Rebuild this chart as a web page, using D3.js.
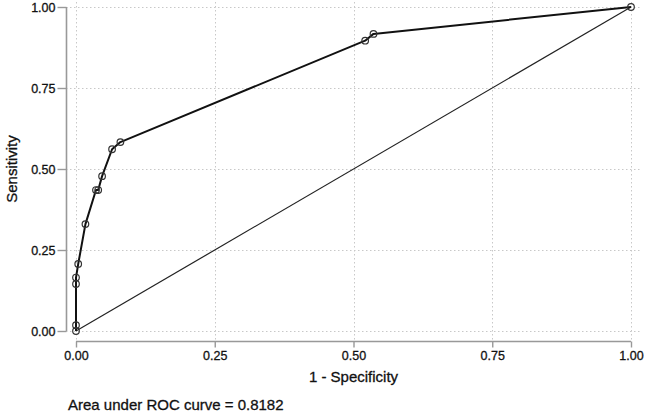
<!DOCTYPE html>
<html>
<head>
<meta charset="utf-8">
<script src="https://cdn.jsdelivr.net/npm/d3@7"></script>
<style>
  body { margin: 0; background: #fff; }
  svg { display: block; font-family: "Liberation Sans", Arial, Helvetica, sans-serif; }
</style>
</head>
<body>
<div id="chart"></div>
<script>
// ROC points (1 - specificity, sensitivity)
const fpr = [0, 0, 0, 0, 0.004, 0.017, 0.036, 0.040, 0.047, 0.065, 0.080, 0.521, 0.536, 1];
const tpr = [0, 0.018, 0.145, 0.165, 0.207, 0.330, 0.435, 0.435, 0.478, 0.561, 0.583, 0.896, 0.917, 1];
const ticks = [0, 0.25, 0.5, 0.75, 1];
const auc = 0.8182;

const width = 646, height = 413;

const svg = d3.select('#chart').append('svg')
  .attr('width', width)
  .attr('height', height);

const x = d3.scaleLinear().domain([0, 1]).range([76, 631]);
const y = d3.scaleLinear().domain([0, 1]).range([331, 7]);

// plot region (a bit larger than the data range)
const px0 = 66, px1 = 641, py0 = -2, py1 = 341;

const fmt = d3.format('.2f');
const axisColor = '#999';

// grid
const grid = svg.append('g')
  .attr('stroke', '#c8c8c8')
  .attr('stroke-width', 1)
  .attr('stroke-dasharray', '1.5,2.5');
grid.selectAll('.gx').data(ticks).join('line')
  .attr('x1', d => Math.round(x(d)) + 0.5).attr('x2', d => Math.round(x(d)) + 0.5)
  .attr('y1', py0).attr('y2', py1);
grid.selectAll('.gy').data(ticks).join('line')
  .attr('class', 'gy')
  .attr('x1', px0).attr('x2', px1)
  .attr('y1', d => Math.round(y(d)) + 0.5).attr('y2', d => Math.round(y(d)) + 0.5);

// y axis
const yAxis = svg.append('g')
  .attr('transform', `translate(${px0 + 0.5},0)`)
  .call(d3.axisLeft(y).tickValues(ticks).tickFormat(fmt).tickSize(9).tickPadding(2));
yAxis.select('.domain').attr('d', `M0,${y(1)}V${y(0)}`);

// x axis
const xAxis = svg.append('g')
  .attr('transform', `translate(0,${py1 + 0.5})`)
  .call(d3.axisBottom(x).tickValues(ticks).tickFormat(fmt).tickSize(6).tickPadding(4));
xAxis.select('.domain').attr('d', `M${x(0)},0H${x(1)}`);

[yAxis, xAxis].forEach(a => {
  a.select('.domain').attr('stroke', axisColor).attr('stroke-width', 1.6);
  a.selectAll('.tick line').attr('stroke', axisColor).attr('stroke-width', 1.4);
  a.selectAll('.tick text')
    .attr('fill', '#111')
    .attr('stroke', '#111')
    .attr('stroke-width', 0.3)
    .style('font-size', '12.5px')
    .style('font-family', '"Liberation Sans", Arial, sans-serif');
});

// reference diagonal
svg.append('line')
  .attr('x1', x(0)).attr('y1', y(0))
  .attr('x2', x(1)).attr('y2', y(1))
  .attr('stroke', '#222')
  .attr('stroke-width', 1.2);

// ROC curve
const pts = fpr.map((v, i) => [v, tpr[i]]);
svg.append('path')
  .datum(pts)
  .attr('fill', 'none')
  .attr('stroke', '#111')
  .attr('stroke-width', 2)
  .attr('stroke-linejoin', 'round')
  .attr('d', d3.line().x(d => x(d[0])).y(d => y(d[1])));

svg.append('g').selectAll('circle')
  .data(pts)
  .join('circle')
  .attr('cx', d => x(d[0]))
  .attr('cy', d => y(d[1]))
  .attr('r', 3.3)
  .attr('fill', 'none')
  .attr('stroke', '#333')
  .attr('stroke-width', 1.2);

// axis titles
const titleStyle = t => t
  .style('font-size', '15px')
  .style('fill', '#111')
  .style('stroke', '#111')
  .style('stroke-width', 0.3);

svg.append('text')
  .attr('x', x(0.5))
  .attr('y', 382)
  .attr('text-anchor', 'middle')
  .call(titleStyle)
  .text('1 - Specificity');

svg.append('text')
  .attr('transform', `translate(17,${(y(0) + y(1)) / 2}) rotate(-90)`)
  .attr('text-anchor', 'middle')
  .call(titleStyle)
  .text('Sensitivity');

svg.append('text')
  .attr('x', 68)
  .attr('y', 410)
  .call(titleStyle)
  .text(`Area under ROC curve = ${auc.toFixed(4)}`);
</script>
</body>
</html>
